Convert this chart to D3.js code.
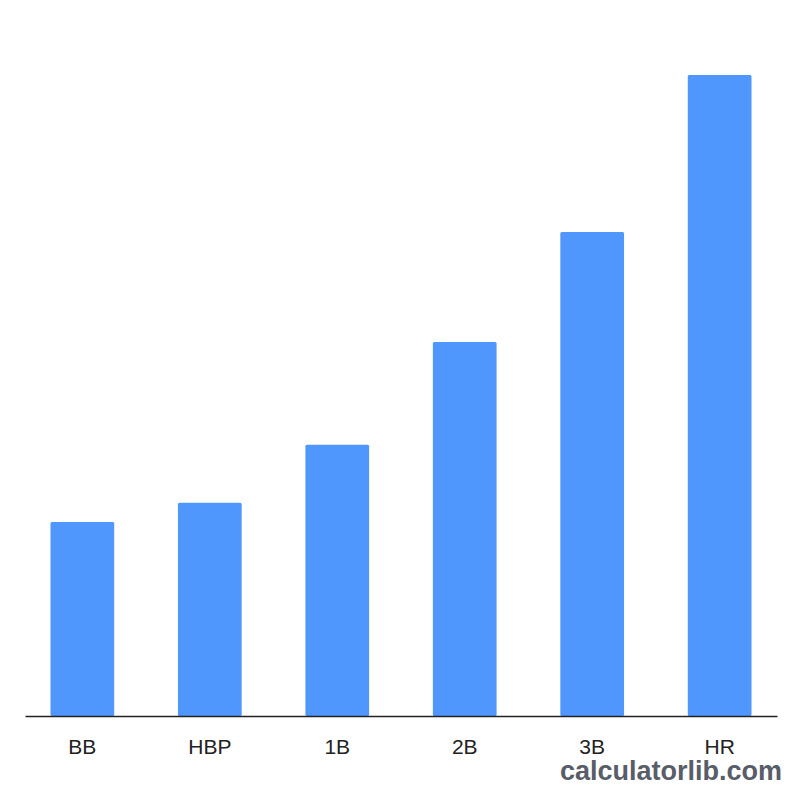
<!DOCTYPE html>
<html>
<head>
<meta charset="utf-8">
<script src="https://cdn.jsdelivr.net/npm/d3@7"></script>
<style>
  body { margin: 0; background: #fff; }
</style>
</head>
<body>
<div id="my_dataviz"></div>
<script>
// data
const categories = ["BB", "HBP", "1B", "2B", "3B", "HR"];
const values = [0.605, 0.665, 0.846, 1.167, 1.51, 2.0];

const W = 800, H = 800;
const margin = { top: 75, right: 23, bottom: 84, left: 25 },
    width = W - margin.left - margin.right,
    height = H - margin.top - margin.bottom;

const svg = d3.select("#my_dataviz")
    .append("svg")
    .attr("width", W)
    .attr("height", H)
    .style("font-family", "Liberation Sans, Arial, sans-serif");

const g = svg.append("g")
    .attr("transform", `translate(${margin.left}, ${margin.top})`);

const x = d3.scaleBand()
    .domain(categories)
    .range([0, width])
    .paddingInner(0.5)
    .paddingOuter(0.2);

const y = d3.scaleLinear()
    .domain([0, 2.0])
    .range([height, 0]);

// bars
g.append("g")
    .selectAll("rect")
    .data(categories)
    .join("rect")
    .attr("x", d => x(d))
    .attr("y", (d, i) => y(values[i]))
    .attr("width", x.bandwidth())
    .attr("height", (d, i) => height - y(values[i]))
    .attr("rx", 1.5)
    .style("fill", "#4f97fd");

// x axis
const xAxis = g.append("g")
    .attr("transform", `translate(0, ${height})`)
    .call(d3.axisBottom(x).tickSize(0).tickPadding(23));
xAxis.select(".domain").attr("stroke", "#222").attr("stroke-width", 1.5);
xAxis.selectAll("text")
    .attr("fill", "#222")
    .style("font-size", "21px")
    .style("font-family", "Liberation Sans, Arial, sans-serif");

// watermark
svg.append("text")
    .attr("x", 782)
    .attr("y", 780)
    .attr("text-anchor", "end")
    .style("font-size", "27px")
    .style("font-weight", "bold")
    .style("fill", "#585d68")
    .text("calculatorlib.com");
</script>
</body>
</html>
